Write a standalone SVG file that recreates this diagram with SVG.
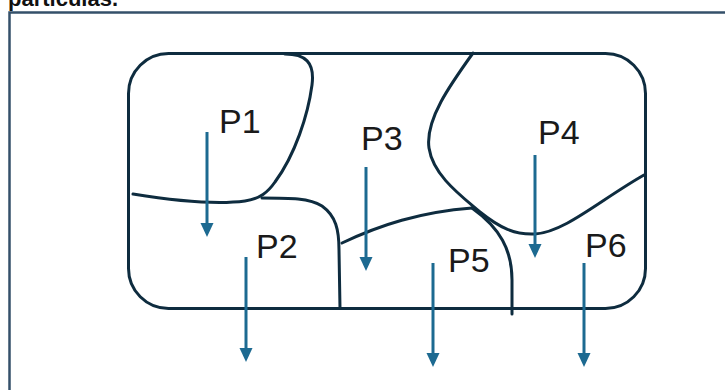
<svg xmlns="http://www.w3.org/2000/svg" width="725" height="390" viewBox="0 0 725 390">
  <style>
    .frame { fill: none; stroke: #34506a; stroke-width: 2.5; }
    .edge { fill: none; stroke: #0e2c3f; stroke-width: 3; stroke-linecap: round; }
    .flow { fill: none; stroke: #1d6a91; stroke-width: 3; }
    .label { font-family: "Liberation Sans", Arial, sans-serif; font-size: 34px; fill: #1a1a1a; }
    .caption { font-family: "Liberation Sans", Arial, sans-serif; font-size: 22px; font-weight: bold; fill: #111; }
  </style>
  <defs>
    <marker id="head" markerUnits="userSpaceOnUse" markerWidth="16" markerHeight="14" refX="6" refY="6.5" orient="auto">
      <path d="M0,0 L14,6.5 L0,13 Z" fill="#1d6a91"/>
    </marker>
  </defs>

  <rect width="725" height="390" fill="#ffffff"/>

  <!-- caption above the panel -->
  <text class="caption" x="8" y="6">partículas.</text>

  <!-- panel border -->
  <path class="frame" d="M 9.5 400 L 9.5 12.5 L 730 12.5"/>

  <!-- region outline and partition boundaries -->
  <g id="region">
    <rect class="edge" x="128.5" y="53.5" width="517" height="255" rx="40" ry="40"/>
    <path class="edge" d="M 133 194 C 170 200, 215 205, 245 201 C 260 199, 268 192, 275 182 C 295 155, 308 115, 312 85 C 315 62, 305 54, 285 54"/>
    <path class="edge" d="M 262 198 C 290 198, 310 198, 322 206 C 336 216, 339 230, 339 250 L 340 308"/>
    <path class="edge" d="M 342 243 C 380 225, 420 212, 472 208"/>
    <path class="edge" d="M 473 53 C 450 85, 425 120, 429 148 C 433 175, 460 195, 480 212 C 500 228, 515 235, 535 234 C 565 232, 600 200, 644 175"/>
    <path class="edge" d="M 472 208 C 500 228, 512 250, 512 280 L 512 314"/>
  </g>

  <!-- partition labels -->
  <g id="P1"><text class="label" x="219" y="133">P1</text></g>
  <g id="P2"><text class="label" x="256" y="258">P2</text></g>
  <g id="P3"><text class="label" x="361" y="150">P3</text></g>
  <g id="P4"><text class="label" x="538" y="144">P4</text></g>
  <g id="P5"><text class="label" x="448" y="272">P5</text></g>
  <g id="P6"><text class="label" x="585" y="257">P6</text></g>

  <!-- downward flow arrows -->
  <g id="connectors">
    <line class="flow" x1="207" y1="132" x2="207" y2="229" marker-end="url(#head)"/>
    <line class="flow" x1="246" y1="257" x2="246" y2="354" marker-end="url(#head)"/>
    <line class="flow" x1="366" y1="167" x2="366" y2="263" marker-end="url(#head)"/>
    <line class="flow" x1="535" y1="155" x2="535" y2="250" marker-end="url(#head)"/>
    <line class="flow" x1="433" y1="263" x2="433" y2="359" marker-end="url(#head)"/>
    <line class="flow" x1="584" y1="263" x2="584" y2="359" marker-end="url(#head)"/>
  </g>
</svg>
